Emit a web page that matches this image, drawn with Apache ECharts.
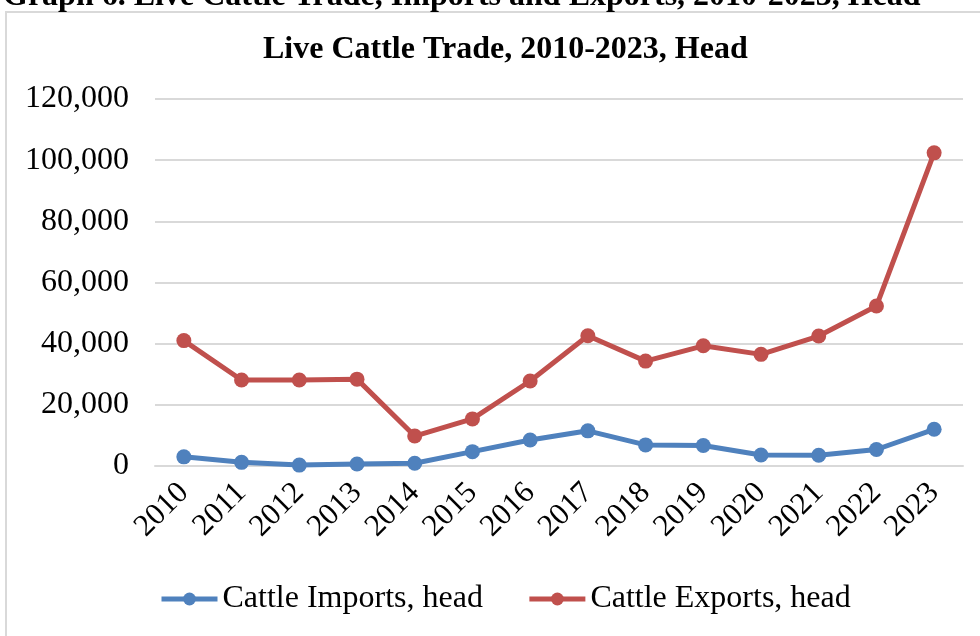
<!DOCTYPE html>
<html><head><meta charset="utf-8">
<script src="https://cdn.jsdelivr.net/npm/echarts@6/dist/echarts.min.js"></script>
<style>html,body{margin:0;padding:0;background:#fff}#c{width:980px;height:636px}</style>
</head><body><div id="c"></div>
<script>
const years = ['2010','2011','2012','2013','2014','2015','2016','2017','2018','2019','2020','2021','2022','2023'];
const imports = [3000,1200,300,650,900,4700,8500,11500,6900,6700,3600,3500,5400,12000];
const exportsHead = [41000,28100,28100,28400,9800,15400,27800,42600,34300,39300,36500,42500,52300,102400];
const yTicks = [0,20000,40000,60000,80000,100000,120000];
const fontFam = '"Liberation Serif","Times New Roman",serif';
const chart = echarts.init(document.getElementById('c'));
chart.setOption({
  backgroundColor:'#fff',
  animation:false,
  graphic:[{type:'rect',shape:{x:6,y:12,width:1000,height:700},style:{fill:'none',stroke:'#d9d9d9',lineWidth:2},z:-1}],
  title:[
    {text:'Graph 6. Live Cattle Trade, Imports and Exports, 2010-2023, Head',left:-2,top:-24,textStyle:{fontFamily:fontFam,fontWeight:'bold',fontSize:32,color:'#000'}},
    {text:'Live Cattle Trade, 2010-2023, Head',left:258,top:29,textStyle:{fontFamily:fontFam,fontWeight:'bold',fontSize:32,color:'#000'}}
  ],
  legend:{bottom:16,left:154,itemWidth:56,itemHeight:16,itemGap:44,
    lineStyle:{width:5},
    textStyle:{fontFamily:fontFam,fontSize:32,color:'#000'},
    data:['Cattle Imports, head','Cattle Exports, head']},
  grid:{left:155,right:17,top:99,bottom:170},
  xAxis:{type:'category',data:years,boundaryGap:true,
    axisLine:{show:true,lineStyle:{color:'#d9d9d9',width:2}},axisTick:{show:false},
    axisLabel:{interval:0,rotate:45,fontFamily:fontFam,fontSize:31,color:'#000',margin:22}},
  yAxis:{type:'value',min:0,max:120000,interval:20000,
    axisLine:{show:false},axisTick:{show:false},
    splitLine:{lineStyle:{color:'#d9d9d9',width:2}},
    axisLabel:{fontFamily:fontFam,fontSize:32,color:'#000',margin:26,
      formatter:v=>yTicks.includes(v)?v.toLocaleString('en-US'):''}},
  series:[
    {name:'Cattle Imports, head',type:'line',data:imports,symbol:'circle',symbolSize:15,
      itemStyle:{color:'#4f81bd'},lineStyle:{color:'#4f81bd',width:5}},
    {name:'Cattle Exports, head',type:'line',data:exportsHead,symbol:'circle',symbolSize:15,
      itemStyle:{color:'#c0504d'},lineStyle:{color:'#c0504d',width:5}}
  ]
});
</script></body></html>
